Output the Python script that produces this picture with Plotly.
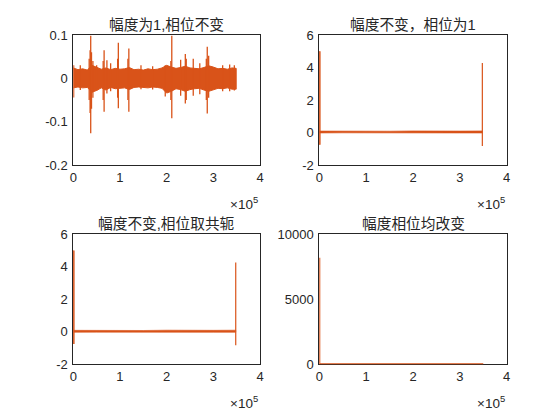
import plotly.graph_objects as go

COLOR = "#D95319"
AXC = "#262626"
FONT = "Liberation Sans, Arial, Noto Sans CJK SC"

titles = ["幅度为1,相位不变", "幅度不变，相位为1", "幅度不变,相位取共轭", "幅度相位均改变"]

# ---- panel 1: original-like signal (envelope, x in units of 1e5 samples)
band_x = [0.0, 0.1, 0.2, 0.3, 0.4, 0.5, 0.6, 0.7, 0.8, 0.9, 1.0, 1.1, 1.2, 1.3, 1.4, 1.5, 1.6, 1.7,
          1.8, 1.9, 2.0, 2.1, 2.2, 2.3, 2.4, 2.5, 2.6, 2.7, 2.8, 2.9, 3.0, 3.1, 3.2, 3.3, 3.4, 3.49]
band_hi = [0.024, 0.020, 0.022, 0.019, 0.030, 0.026, 0.021, 0.024, 0.020, 0.023, 0.021, 0.022,
           0.025, 0.020, 0.021, 0.019, 0.022, 0.020, 0.021, 0.024, 0.030, 0.026, 0.023, 0.025,
           0.028, 0.024, 0.023, 0.022, 0.025, 0.029, 0.026, 0.022, 0.023, 0.021, 0.024, 0.023]
band_lo = [-0.022, -0.020, -0.022, -0.021, -0.032, -0.028, -0.022, -0.027, -0.021, -0.024,
           -0.023, -0.022, -0.026, -0.021, -0.020, -0.021, -0.022, -0.020, -0.021, -0.023,
           -0.034, -0.030, -0.024, -0.026, -0.030, -0.026, -0.024, -0.023, -0.027, -0.030,
           -0.026, -0.023, -0.024, -0.022, -0.025, -0.025]

spike_x = [0.373, 0.36, 0.39, 0.34, 0.42, 0.66, 0.64, 0.72, 0.80, 0.965, 0.95, 1.19, 1.17,
           1.97, 2.11, 2.09, 2.30, 2.40, 2.42, 2.57, 2.71, 2.87, 2.90, 2.85,
           0.15, 0.50, 1.45, 1.70, 3.20, 3.35, 3.45, 0.008]
spike_top = [0.098, 0.065, 0.060, 0.045, 0.040, 0.065, 0.040, 0.042, 0.035, 0.082, 0.045, 0.069,
             0.045, 0.030, 0.098, 0.040, 0.043, 0.056, 0.045, 0.045, 0.035, 0.073, 0.052, 0.045,
             0.030, 0.030, 0.030, 0.028, 0.030, 0.032, 0.030, 0.030]
spike_bot = [-0.127, -0.080, -0.070, -0.050, -0.045, -0.077, -0.050, -0.035, -0.030, -0.069,
             -0.045, -0.077, -0.050, -0.042, -0.092, -0.050, -0.040, -0.058, -0.050, -0.040,
             -0.037, -0.081, -0.045, -0.050, -0.027, -0.028, -0.025, -0.026, -0.030, -0.030,
             -0.028, -0.044]

# ---- panels 2 & 3: reconstructed signals (baseline + end spikes)
flat_x = [0.0, 0.5, 1.0, 1.5, 2.0, 2.5, 3.0, 3.48]
flat_hi = [0.09, 0.08, 0.09, 0.08, 0.10, 0.08, 0.09, 0.10]
flat_lo = [-0.03, -0.02, -0.03, -0.02, -0.03, -0.02, -0.03, -0.03]
end_spike_x = [0.0, 3.48]
end_spike_top = [5.0, 4.27]
end_spike_bot = [-0.75, -0.83]

# ---- panel 4: magnitude & phase changed
p4_x = [0.0, 0.0, 3.5]
p4_y = [8200, 0, 0]

SCALE = 1e5

def spikes_xy(xs, tops, bots):
    X, Y = [], []
    for x, t, b in zip(xs, tops, bots):
        X += [x * SCALE, x * SCALE, None]
        Y += [t, b, None]
    return X, Y

def band_xy(xs, hi, lo):
    X = [x * SCALE for x in xs] + [x * SCALE for x in xs[::-1]]
    Y = list(hi) + list(lo[::-1])
    return X, Y

fig = go.Figure()

# panel 1
bx, by = band_xy(band_x, band_hi, band_lo)
fig.add_trace(go.Scatter(x=bx, y=by, fill="toself", fillcolor=COLOR, mode="lines",
                         line=dict(color=COLOR, width=1), xaxis="x", yaxis="y", hoverinfo="skip"))
sx, sy = spikes_xy(spike_x, spike_top, spike_bot)
fig.add_trace(go.Scatter(x=sx, y=sy, mode="lines", line=dict(color=COLOR, width=1.3),
                         xaxis="x", yaxis="y", hoverinfo="skip"))

# panels 2 & 3
for xa, ya in [("x2", "y2"), ("x3", "y3")]:
    fx, fy = band_xy(flat_x, flat_hi, flat_lo)
    fig.add_trace(go.Scatter(x=fx, y=fy, fill="toself", fillcolor=COLOR, mode="lines",
                             line=dict(color=COLOR, width=0.6), xaxis=xa, yaxis=ya, hoverinfo="skip"))
    ex, ey = spikes_xy(end_spike_x, end_spike_top, end_spike_bot)
    fig.add_trace(go.Scatter(x=ex, y=ey, mode="lines", line=dict(color=COLOR, width=1.2),
                             xaxis=xa, yaxis=ya, hoverinfo="skip"))
    # make the x=0 spike visible despite clipping at the axis edge
    fig.add_trace(go.Scatter(x=[end_spike_x[0] * SCALE] * 2, y=[end_spike_top[0], end_spike_bot[0]],
                             mode="lines", line=dict(color=COLOR, width=2.6),
                             xaxis=xa, yaxis=ya, hoverinfo="skip"))

# panel 4
fig.add_trace(go.Scatter(x=[v * SCALE for v in p4_x], y=p4_y, mode="lines",
                         line=dict(color=COLOR, width=2), xaxis="x4", yaxis="y4", hoverinfo="skip"))

# page body has an 8px margin: figure is 552x412 drawn at offset (8, 8)
W, H = 552, 412
xdoms = [[65.3 / W, 252.0 / W], [311.3 / W, 498.7 / W]]
ydoms = [[1 - 157.0 / H, 1 - 27.0 / H], [1 - 356.3 / H, 1 - 226.3 / H]]
yranges = [[-0.2, 0.1], [-2, 6], [-2, 6], [0, 10000]]
yticks = [[-0.2, -0.1, 0, 0.1], [-2, 0, 2, 4, 6], [-2, 0, 2, 4, 6], [0, 5000, 10000]]
ytext = [["-0.2", "-0.1", "0", "0.1"], ["-2", "0", "2", "4", "6"], ["-2", "0", "2", "4", "6"],
         ["0", "5000", "10000"]]
xticks = [0, 1e5, 2e5, 3e5, 4e5]
xtext = ["0", "1", "2", "3", "4"]

layout = dict(width=W, height=H, margin=dict(l=0, r=0, t=0, b=0, autoexpand=False),
              paper_bgcolor="white", plot_bgcolor="white", showlegend=False,
              font=dict(family=FONT, size=13, color=AXC))
annotations = []
for i in range(4):
    r, c = divmod(i, 2)
    sfx = "" if i == 0 else str(i + 1)
    layout["xaxis" + sfx] = dict(domain=xdoms[c], range=[0, 4e5], tickvals=xticks, ticktext=xtext,
                                 showline=True, mirror=True, linecolor=AXC, linewidth=1,
                                 showgrid=False, zeroline=False, ticks="", layer="below traces",
                                 anchor="y" + sfx, fixedrange=True, automargin=False,
                                 tickfont=dict(family=FONT, size=13, color=AXC))
    layout["yaxis" + sfx] = dict(domain=ydoms[r], range=yranges[i], tickvals=yticks[i],
                                 ticktext=ytext[i], showline=True, mirror=True, linecolor=AXC,
                                 linewidth=1, showgrid=False, zeroline=False, ticks="",
                                 layer="below traces", anchor="x" + sfx, fixedrange=True,
                                 automargin=False, ticklabelstandoff=2,
                                 tickfont=dict(family=FONT, size=13, color=AXC))
    xc = (xdoms[c][0] + xdoms[c][1]) / 2
    annotations.append(dict(text=titles[i], x=xc, y=ydoms[r][1], xref="paper", yref="paper",
                            xanchor="center", yanchor="middle", yshift=10, showarrow=False,
                            font=dict(family=FONT, size=14.7, color=AXC)))
    annotations.append(dict(text="×10<sup>5</sup>", x=xdoms[c][1], y=ydoms[r][0], xref="paper",
                            yref="paper", xanchor="right", yanchor="top", yshift=-27, xshift=0,
                            showarrow=False, font=dict(family=FONT, size=13.5, color=AXC)))
layout["annotations"] = annotations
fig.update_layout(**layout)
fig.write_html("out.html")
